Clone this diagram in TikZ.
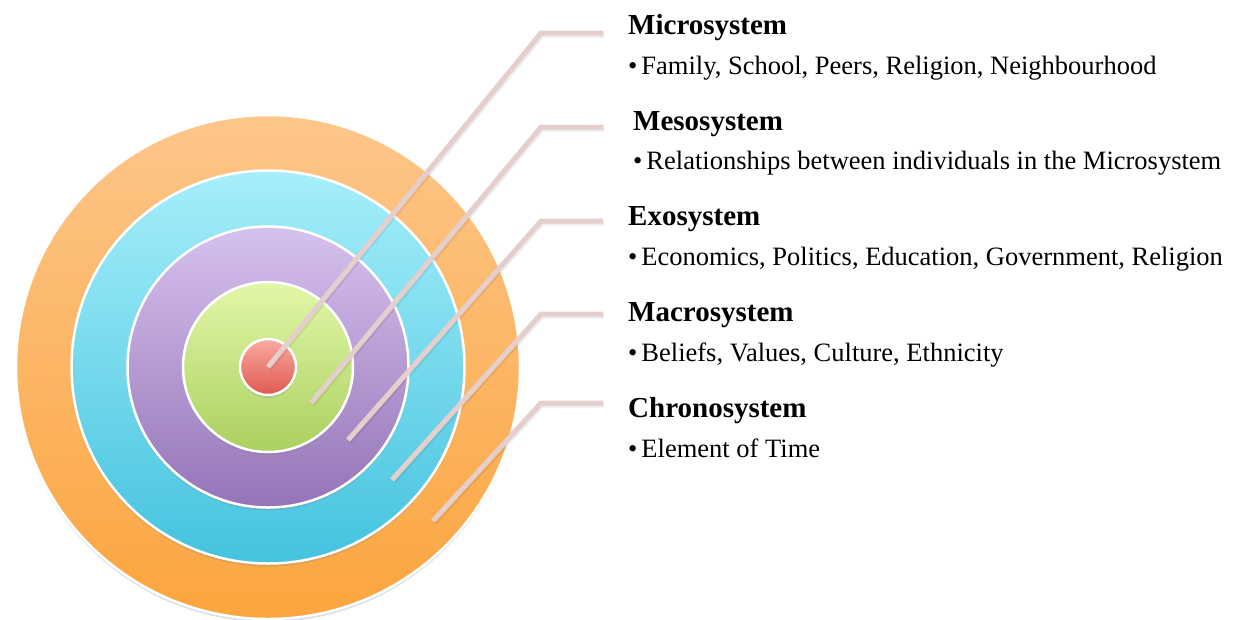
\documentclass[tikz,border=0pt]{standalone}
\usepackage{fontspec}
\setmainfont{Liberation Serif}
\usepackage{tikz}
\usetikzlibrary{shadows}

\definecolor{chronoTop}{RGB}{253,198,138}
\definecolor{chronoBot}{RGB}{251,165,62}
\definecolor{macroTop}{RGB}{166,238,250}
\definecolor{macroBot}{RGB}{68,195,222}
\definecolor{exoTop}{RGB}{214,193,238}
\definecolor{exoBot}{RGB}{148,116,183}
\definecolor{mesoTop}{RGB}{226,247,168}
\definecolor{mesoBot}{RGB}{170,208,96}
\definecolor{microTop}{RGB}{250,170,162}
\definecolor{microBot}{RGB}{222,88,78}
\definecolor{leadcol}{RGB}{229,207,204}

\newcommand{\itembullet}{\textbullet\hspace{4pt}}

\begin{document}
\begin{tikzpicture}[x=1pt,y=-1pt,
    ring/.style={circle,draw=white,line width=2.5pt,inner sep=0pt,
      drop shadow={opacity=0.25,shadow xshift=0pt,shadow yshift=-3pt}},
    leader/.style={line width=5pt,draw=leadcol,
      preaction={draw=black,opacity=0.07,line width=6pt,transform canvas={shift={(1pt,-1.5pt)}}}},
    title/.style={anchor=base west,inner sep=0pt,font=\fontsize{29}{31}\selectfont\bfseries},
    item/.style={anchor=base west,inner sep=0pt,font=\fontsize{26.5}{28}\selectfont}]
      \useasboundingbox (0,0) rectangle (1238,619);

      \node[ring, minimum size=504pt, top color=chronoTop, bottom color=chronoBot] (chrono) at (268,367) {};
      \node[ring, minimum size=393pt, top color=macroTop, bottom color=macroBot] (macro) at (chrono.center) {};
      \node[ring, minimum size=281pt, top color=exoTop, bottom color=exoBot] (exo) at (chrono.center) {};
      \node[ring, minimum size=170pt, top color=mesoTop, bottom color=mesoBot] (meso) at (chrono.center) {};
      \node[ring, minimum size=56pt, top color=microTop, bottom color=microBot] (micro) at (chrono.center) {};

      \node[title] (microT) at (628,34) {Microsystem};
      \node[item] (microB) at (628,74) {\itembullet Family, School, Peers, Religion, Neighbourhood};
      \node[title] (mesoT) at (633,130) {Mesosystem};
      \node[item] (mesoB) at (633,169) {\itembullet Relationships between individuals in the Microsystem};
      \node[title] (exoT) at (628,225) {Exosystem};
      \node[item] (exoB) at (628,265) {\itembullet Economics, Politics, Education, Government, Religion};
      \node[title] (macroT) at (628,321) {Macrosystem};
      \node[item] (macroB) at (628,361) {\itembullet Beliefs, Values, Culture, Ethnicity};
      \node[title] (chronoT) at (628,417) {Chronosystem};
      \node[item] (chronoB) at (628,457) {\itembullet Element of Time};

      \coordinate (mesoIn) at (311,403);
      \coordinate (exoIn) at (348,440);
      \coordinate (macroIn) at (392,480);
      \coordinate (chronoIn) at (433,521);
      \coordinate (microK) at (541,33);
      \coordinate (mesoK) at (541,127);
      \coordinate (exoK) at (541,221);
      \coordinate (macroK) at (541,314);
      \coordinate (chronoK) at (541,403);

      \draw[leader] (micro.center) -- (microK) -- (microK -| 603,0);
      \draw[leader] (mesoIn) -- (mesoK) -- (mesoK -| 603,0);
      \draw[leader] (exoIn) -- (exoK) -- (exoK -| 603,0);
      \draw[leader] (macroIn) -- (macroK) -- (macroK -| 603,0);
      \draw[leader] (chronoIn) -- (chronoK) -- (chronoK -| 603,0);
    \end{tikzpicture}
\end{document}
